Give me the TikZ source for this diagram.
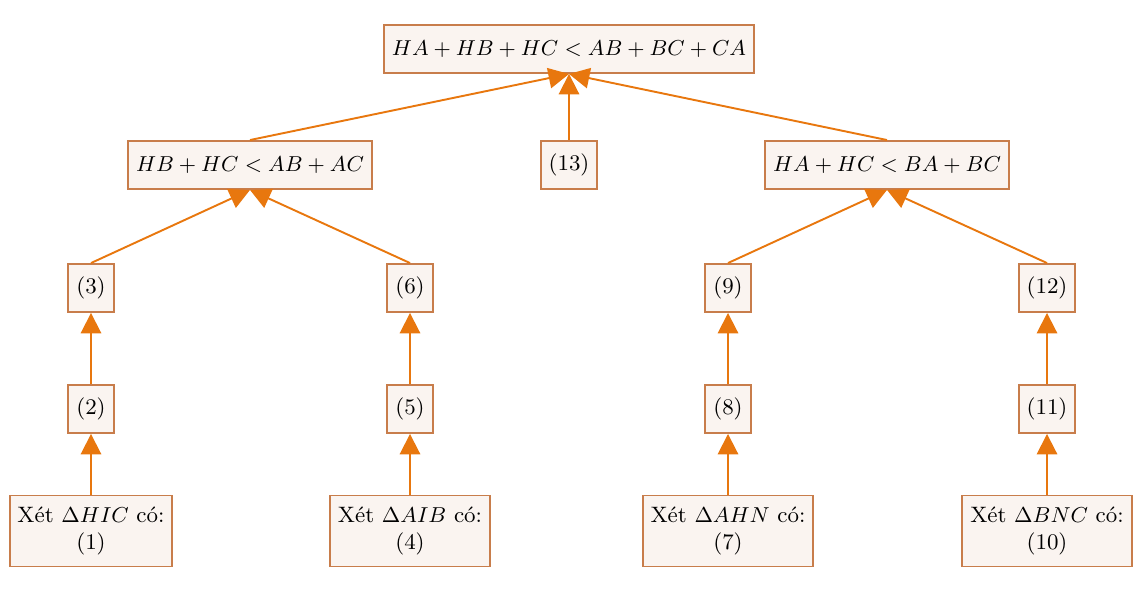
\documentclass[tikz,border=0pt]{standalone}
\usetikzlibrary{arrows.meta}
\definecolor{boxline}{RGB}{200,125,75}
\definecolor{boxfill}{RGB}{250,244,240}
\definecolor{arr}{RGB}{232,119,14}
\begin{document}
\begin{tikzpicture}[x=0.4167pt,y=-0.4167pt,
  bx/.style={draw=boxline,fill=boxfill,line width=0.8pt,inner xsep=3.3pt,inner ysep=4.8pt,minimum height=20pt,align=center,font=\fontsize{9.3}{11.2}\selectfont},
  ar/.style={draw=arr,line width=0.8pt,-{Triangle[length=8.5pt,width=8.5pt]}}]
\useasboundingbox (0,0) rectangle (1143,589);
\node[bx] (top) at (569,49) {$HA+HB+HC<AB+BC+CA$};
\node[bx] (L) at (250,165) {$HB+HC<AB+AC$};
\node[bx] (n13) at (569,165) {(13)};
\node[bx] (R) at (887,165) {$HA+HC<BA+BC$};
\node[bx] (n3) at (91,288) {(3)};
\node[bx] (n6) at (410,288) {(6)};
\node[bx] (n9) at (728,288) {(9)};
\node[bx] (n12) at (1047,288) {(12)};
\node[bx] (n2) at (91,409) {(2)};
\node[bx] (n5) at (410,409) {(5)};
\node[bx] (n8) at (728,409) {(8)};
\node[bx] (n11) at (1047,409) {(11)};
\node[bx] (b1) at (91,531) {Xét $\Delta HIC$ có:\\(1)};
\node[bx] (b4) at (410,531) {Xét $\Delta AIB$ có:\\(4)};
\node[bx] (b7) at (728,531) {Xét $\Delta AHN$ có:\\(7)};
\node[bx] (b10) at (1047,531) {Xét $\Delta BNC$ có:\\(10)};
\draw[ar] (L.north) -- (top.south);
\draw[ar] (n13.north) -- (top.south);
\draw[ar] (R.north) -- (top.south);
\draw[ar] (n3.north) -- (L.south);
\draw[ar] (n6.north) -- (L.south);
\draw[ar] (n9.north) -- (R.south);
\draw[ar] (n12.north) -- (R.south);
\draw[ar] (n2) -- (n3);
\draw[ar] (n5) -- (n6);
\draw[ar] (n8) -- (n9);
\draw[ar] (n11) -- (n12);
\draw[ar] (b1) -- (n2);
\draw[ar] (b4) -- (n5);
\draw[ar] (b7) -- (n8);
\draw[ar] (b10) -- (n11);
\end{tikzpicture}
\end{document}
